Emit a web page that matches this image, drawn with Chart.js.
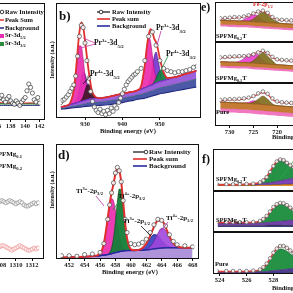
<!DOCTYPE html>
<html>
<head>
<meta charset="utf-8">
<script src="https://cdn.jsdelivr.net/npm/chart.js@4.4.1/dist/chart.umd.min.js"></script>
<style>
  html, body { margin: 0; padding: 0; width: 293px; height: 293px; overflow: hidden; background: #fff; }
  #fig { position: relative; width: 293px; height: 293px; overflow: hidden;
         font-family: "Liberation Serif", "Times New Roman", serif; font-weight: bold; color: #111; }
  #fig canvas { position: absolute; }
  .frame { position: absolute; box-sizing: border-box; border: 1.3px solid #111; pointer-events: none; }
  .t { position: absolute; white-space: nowrap; line-height: 1; }
  .t sub, .t sup { font-size: 65%; line-height: 0; }
  .rot { transform: translate(-50%, -50%) rotate(-90deg); }
  svg { position: absolute; left: 0; top: 0; }
</style>
</head>
<body>
<div id="fig"></div>
<script>
// ---- panel a : Sr 3d (cut at the left edge) ----
const E_a = [136.25, 136.5, 136.75, 137, 137.25, 137.5, 137.75, 138, 138.25, 138.5, 138.75, 139,
             139.25, 139.5, 139.75, 140, 140.25, 140.5, 140.75, 141, 141.25, 141.5, 141.75, 142];
const raw_a = [18, 20, 22, 18, 16, 19, 21, 17, 15, 14, 17, 15, 13, 16, 18, 20, 26, 32, 29, 24, 18, 16, 20, 15];
const sum_a = [15.5, 15.5, 15.4, 15.4, 15.3, 15.3, 15.2, 15.2, 15.1, 15.1, 15, 15, 15, 15, 15, 15.1, 15.2, 15.3, 15.3, 15.2, 15.1, 15, 15, 15];
const sr_a = [14.5, 14.5, 14.5, 14.5, 14.5, 14.5, 14.5, 14.5, 14.5, 14.5, 14.5, 14.5, 14.5, 14.5, 14.5, 14.5, 14.5, 14.5, 14.5, 14.5, 14.5, 14.5, 14.5, 14.5];
const bg_a = [13, 13, 13, 13, 13, 13, 13, 13, 13, 13, 13, 13, 13, 13, 13, 13, 13, 13, 13, 13, 13, 13, 13, 13];
const ticks_a = [132, 134, 136, 138, 140, 142];

// ---- panel b : Pr 3d ----
const E_b = [923.5, 925, 926, 927, 927.5, 928, 928.5, 929, 929.5, 930, 930.5, 931, 932, 934, 936, 938, 940,
             942, 943, 944, 945, 946, 946.5, 947, 947.5, 948, 948.5, 949, 949.5, 950, 950.5, 951, 952, 954, 956, 958, 960];
const bgHigh_b = [10, 11, 12, 13, 13.5, 14, 14.5, 15, 15.5, 16, 16.5, 17, 17.5, 18, 19, 20.5, 22, 23.5, 24, 25,
                  26, 27.5, 28, 29, 29.5, 30, 31, 32, 32.5, 33, 33.5, 34, 35, 37, 39, 41, 43];
const bgMid_b = [9, 9.7, 10.5, 11.2, 11.5, 11.8, 12.1, 12.5, 12.8, 13.2, 13.5, 13.9, 14.2, 14.7, 15.5, 16.7, 18,
                 19.5, 20, 21, 21.7, 22.7, 23.2, 24, 24.5, 25, 25.7, 26.5, 27, 27.5, 27.9, 28.3, 29.1, 30.7, 32.4, 34, 35.6];
const bgLow_b = [8, 8.5, 9, 9.3, 9.5, 9.7, 9.8, 10, 10.2, 10.4, 10.6, 10.8, 11, 11.5, 12, 13, 14, 15.5, 16, 17,
                 17.5, 18, 18.5, 19, 19.5, 20, 20.5, 21, 21.5, 22, 22.3, 22.6, 23.2, 24.5, 25.8, 27, 28.2];
const pink_b = [10, 11.1, 13.4, 25.3, 38.8, 54.7, 65.5, 64.7, 53.3, 38.3, 26.8, 20.7, 17.7, 18, 19, 20.5, 22,
                23.5, 24, 25.1, 28.9, 48.4, 63.2, 72.7, 69.4, 56.7, 44.1, 36.7, 33.7, 33.3, 33.5, 34, 35, 37, 39, 41, 43];
const purple_b = [10, 11, 12, 13.5, 15.2, 19.4, 26.8, 35.8, 41.3, 39.6, 32.3, 24.7, 18.2, 18, 19, 20.5, 22,
                  23.5, 24, 25, 26, 27.5, 28.3, 30.7, 35.6, 44.9, 55.7, 59.8, 53.6, 43.9, 37.3, 34.9, 35, 37, 39, 41, 43];
const dark_b = [10, 11, 12, 13, 13.5, 14, 14.5, 16.1, 19.2, 24.5, 29.5, 30.6, 22, 18, 19, 20.5, 22, 23.5, 24, 25,
                26, 27.5, 28, 29, 29.5, 30, 31, 32, 32.5, 33, 33.5, 34, 35, 37, 39, 41, 43];
const green_b = [10, 11, 12, 13, 13.5, 14, 14.5, 15, 15.5, 16, 16.5, 17, 17.5, 18, 19, 20.5, 22, 23.5, 24, 25,
                 26, 27.5, 28, 29, 29.5, 30.5, 32.7, 36.1, 39.9, 42.8, 43, 40.7, 36.4, 37, 39, 41, 43];
const sum_b = [10, 11.1, 13.4, 25.8, 40.5, 60.1, 77.8, 86.6, 82.8, 70.4, 55.6, 42, 22.9, 18, 19, 20.5, 22, 23.5,
               24, 25.1, 28.9, 48.4, 63.5, 75, 80.5, 78, 72, 68.6, 62.2, 54, 46.8, 41.6, 36.4, 37, 39, 41, 43];
const rawE_b = [923.5, 924, 924.5, 925, 925.5, 926, 926.5, 927, 927.5, 928, 928.5, 929, 929.5, 930, 930.5, 931,
                931.5, 932, 932.5, 933, 933.5, 934, 934.5, 935, 935.5, 936, 936.5, 937, 937.5, 938, 938.5, 939,
                939.5, 940, 940.5, 941, 941.5, 942, 942.5, 943, 943.5, 944, 945, 946, 947, 948, 949, 950, 951,
                952, 953, 954, 955, 956, 957, 958, 959, 960];
const rawY_b = [14, 16, 17, 19, 21, 24, 27, 30, 38, 56, 74, 84, 82, 68, 52, 36, 24, 15, 10, 7,
                5, 8, 4, 6, 3, 7, 4, 9, 6, 11, 9, 14, 18, 22, 26, 30, 33, 35, 37, 39,
                40, 42, 45, 52, 74, 78, 66, 52, 45, 43, 42, 41, 42, 42, 43, 44, 46, 47];
const ticks_b = [930, 940, 950];

// ---- panel c : cut at the left edge ----
const E_c = [1308, 1308.25, 1308.5, 1308.75, 1309, 1309.25, 1309.5, 1309.75, 1310, 1310.25, 1310.5, 1310.75,
             1311, 1311.25, 1311.5, 1311.75, 1312, 1312.25, 1312.5, 1312.75];
const mg01_c = [52, 53, 52, 51, 52, 53, 52, 51, 50, 51, 52, 51, 49, 48, 48, 49, 50, 51, 50, 51];
const mg02_c = [11, 12, 12, 11, 10, 9, 8, 9, 10, 11, 12, 11, 10, 9, 8, 8, 9, 10, 9, 10];
const ticks_c = [1304, 1306, 1308, 1310, 1312];

// ---- panel d : Ti 2p ----
const E_d = [451, 452, 453, 454, 455, 456, 456.5, 457, 457.25, 457.5, 457.75, 458, 458.25, 458.5, 458.75, 459,
             459.25, 459.5, 460, 460.5, 461, 461.5, 462, 462.5, 463, 463.5, 464, 464.5, 465, 465.5, 466, 467, 468];
const bg_d = [1.3, 1.5, 1.8, 2.1, 2.5, 3.0, 3.5, 4.0, 4.4, 4.8, 5.3, 5.8, 6.2, 6.6, 7.0, 7.3, 7.5, 7.6, 7.7, 7.8,
              7.9, 8.0, 8.3, 8.7, 9.2, 9.6, 10.0, 10.2, 10.3, 10.3, 10.3, 10.2, 10.1];
const ti3p32_d = [1.3, 1.5, 1.8, 2.1, 2.6, 4.8, 14.3, 36.9, 48.5, 54.6, 52.6, 43.5, 31.5, 20.9, 13.8, 10.0, 8.4,
                  7.6, 7.7, 7.8, 7.9, 8.0, 8.3, 8.7, 9.2, 9.6, 10.0, 10.2, 10.3, 10.3, 10.3, 10.2, 10.1];
const ti4p32_d = [1.3, 1.5, 1.8, 2.1, 2.5, 3.0, 3.5, 4.0, 5.9, 10, 19, 34, 51.6, 63.4, 62.5, 49.4, 32.4, 19.1,
                  8.9, 7.8, 7.9, 8.0, 8.3, 8.7, 9.2, 9.6, 10.0, 10.2, 10.3, 10.3, 10.3, 10.2, 10.1];
const ti3p12_d = [1.3, 1.5, 1.8, 2.1, 2.5, 3.0, 3.5, 4.0, 4.4, 4.8, 5.3, 5.8, 6.2, 6.6, 7.0, 7.3, 7.5, 7.6, 7.7,
                  7.9, 8.3, 9.8, 13.4, 18.5, 22.1, 21.1, 16.9, 13.0, 11.1, 10.4, 10.3, 10.2, 10.1];
const ti4p12_d = [1.3, 1.5, 1.8, 2.1, 2.5, 3.0, 3.5, 4.0, 4.4, 4.8, 5.3, 5.8, 6.2, 6.6, 7.0, 7.3, 7.5, 7.6, 7.7,
                  7.8, 7.9, 8.1, 8.9, 11.1, 16.2, 23.2, 27.9, 26.1, 19.9, 14.2, 11.4, 10.2, 10.1];
const sum_d = [1.3, 1.5, 1.8, 2.1, 2.6, 4.8, 14.3, 37, 50, 60, 68, 77, 82, 80, 70, 52, 33, 19.1, 8.9, 8.0,
               8.3, 9.9, 14, 20.9, 29.1, 34.7, 34.8, 28.9, 20.7, 14.3, 11.4, 10.2, 10.1];
const raw_d = [3, 3, 2.5, 4, 4.5, 6, 14, 36, 49, 60, 69, 78, 83, 80, 70, 53, 36, 24, 14, 13,
               13.5, 15, 18, 24, 31, 36, 35, 30, 22, 16, 13, 12, 11];
const ticks_d = [452, 454, 456, 458, 460, 462, 464, 466, 468];

// ---- panel e : Fe 2p, three samples ----
const E_e = [732, 731, 730, 729, 728, 727, 726, 725, 724, 723, 722, 721, 720, 719, 718, 717, 716];
const raw1e = [62, 63, 64, 66, 65, 68, 72, 78, 84, 87, 80, 66, 58, 57, 56, 55, 55];
const sum1e = [60, 61, 62, 63, 64, 66, 70, 77, 83, 85, 78, 65, 58, 56, 55, 54, 54];
const top1e = [55, 55, 54, 54, 53, 53, 52, 51, 50, 49, 48, 47, 46, 45, 44, 43, 42];
const low1e = [42, 42, 41, 41, 40, 40, 39, 38, 37, 36, 35, 34, 33, 32, 31, 30, 29];
const base1e = [35, 35, 34, 34, 33, 33, 32, 31, 30, 29, 28, 27, 26, 25, 24, 23, 22];
const mag1e = [55, 55, 54, 54, 53, 58, 66, 74, 70, 55, 48, 47, 46, 45, 44, 43, 42];
const olv1e = [55, 55, 54, 54, 53, 53, 53, 60, 72, 84, 74, 60, 50, 45, 44, 43, 42];
const raw2e = [66, 67, 68, 69, 70, 70, 72, 76, 82, 87, 80, 68, 60, 58, 57, 56, 55];
const sum2e = [64, 65, 66, 67, 68, 69, 71, 77, 83, 85, 78, 66, 59, 57, 56, 55, 54];
const top2e = [52, 52, 51, 51, 50, 50, 49, 48, 47, 46, 45, 44, 43, 42, 41, 40, 39];
const low2e = [40, 40, 39, 39, 38, 38, 37, 36, 35, 34, 33, 32, 31, 30, 29, 28, 27];
const base2e = [33, 33, 32, 32, 31, 31, 30, 29, 28, 27, 26, 25, 24, 23, 22, 21, 20];
const mag2e = [52, 52, 51, 51, 54, 62, 72, 78, 74, 58, 45, 44, 43, 42, 41, 40, 39];
const olv2e = [52, 52, 51, 51, 50, 50, 49, 56, 70, 82, 70, 56, 43, 42, 41, 40, 39];
const raw3e = [68, 69, 70, 70, 71, 72, 74, 78, 85, 90, 84, 72, 64, 62, 61, 60, 59];
const sum3e = [66, 67, 68, 68, 69, 70, 73, 77, 83, 87, 82, 70, 63, 61, 60, 59, 58];
const top3e = [62, 62, 61, 61, 60, 60, 59, 58, 57, 56, 55, 54, 53, 52, 51, 50, 49];
const low3e = [46, 46, 45, 45, 44, 44, 43, 42, 41, 40, 39, 38, 37, 36, 35, 34, 33];
const base3e = [36, 36, 35, 35, 34, 34, 33, 32, 31, 30, 29, 28, 27, 26, 25, 24, 23];
const mag3e = [62, 62, 61, 61, 60, 60, 62, 66, 63, 56, 55, 54, 53, 52, 51, 50, 49];
const olv3e = [62, 62, 61, 61, 60, 60, 59, 62, 70, 78, 70, 58, 53, 52, 51, 50, 49];
const ticks_e = [730, 725, 720, 715];

// ---- panel f : O 1s, three samples ----
const E_f = [523.8, 524.5, 525, 525.5, 526, 526.5, 527, 527.25, 527.5, 527.75, 528, 528.25, 528.5, 528.75,
             529, 529.25, 529.5, 530, 530.5, 531];
const raw1f = [6, 6, 6, 6, 7, 8, 12, 18, 28, 44, 62, 76, 82, 80, 72, 64, 58, 52, 50, 48];
const sum1f = [5, 5, 5, 5, 6, 8, 12, 19, 30, 46, 63, 77, 83, 81, 73, 65, 59, 53, 50, 48];
const top1f = [6, 6, 6, 6, 6, 7, 8, 9, 10, 11, 13, 15, 17, 19, 21, 23, 25, 28, 30, 32];
const low1f = [4, 4, 4, 4, 4, 4, 5, 5, 5, 5, 6, 6, 6, 7, 7, 7, 8, 8, 9, 9];
const grn1f = [6, 6, 6, 6, 6, 7, 11, 18, 28, 44, 60, 74, 80, 78, 70, 62, 55, 45, 38, 34];
const oh1f = [null, null, null, null, null, null, null, null, null, null, null, null, 25, 36, 50, 64, 78, 100, 110, 120];
const raw2f = [16, 16, 16, 16, 16, 17, 20, 26, 36, 50, 64, 73, 77, 76, 70, 62, 55, 48, 44, 42];
const sum2f = [15, 15, 15, 15, 15, 16, 19, 25, 35, 49, 63, 72, 76, 75, 69, 61, 54, 47, 43, 41];
const top2f = [12, 12, 12, 12, 12, 13, 13, 14, 15, 16, 17, 18, 19, 20, 21, 22, 23, 25, 27, 29];
const low2f = [6, 6, 6, 6, 6, 6, 6, 6, 7, 7, 7, 7, 7, 8, 8, 8, 8, 9, 9, 9];
const grn2f = [12, 12, 12, 12, 12, 14, 18, 24, 33, 47, 60, 70, 74, 73, 67, 59, 51, 42, 35, 31];
const raw3f = [8, 8, 8, 8, 8, 9, 12, 18, 28, 42, 57, 68, 75, 75, 70, 63, 56, 50, 46, 44];
const sum3f = [7, 7, 7, 7, 7, 8, 11, 17, 27, 41, 56, 68, 75, 75, 70, 63, 56, 49, 45, 43];
const top3f = [5, 5, 5, 5, 5, 5, 6, 6, 7, 8, 9, 10, 11, 12, 13, 14, 15, 17, 19, 21];
const low3f = [2, 2, 2, 2, 2, 2, 2, 2, 3, 3, 3, 3, 3, 3, 4, 4, 4, 4, 5, 5];
const grn3f = [5, 5, 5, 5, 5, 7, 10, 16, 25, 38, 52, 62, 67, 66, 61, 54, 47, 38, 31, 27];
const ticks_f = [524, 526, 528, 530];

const SERIF = '"Liberation Serif", "Times New Roman", serif';
const fig = document.getElementById('fig');

function pts(xs, ys) {
  return xs.map((x, i) => ({ x: x, y: ys[i] }));
}

function circles(xs, ys, color, r) {
  return { data: pts(xs, ys), showLine: false, pointRadius: r, pointBorderWidth: 0.7,
           pointBorderColor: color, pointBackgroundColor: 'rgba(255,255,255,0.85)', borderColor: color };
}

function curve(xs, ys, color, width, fill, fillColor) {
  return { data: pts(xs, ys), borderColor: color, borderWidth: width, pointRadius: 0,
           cubicInterpolationMode: 'monotone', fill: fill === undefined ? false : fill,
           backgroundColor: fillColor || 'rgba(0,0,0,0)' };
}

// One plot box: canvas + frame. The x axis (with ticks) hangs below the box when ticks are given.
function panel(box, xmin, xmax, ticks, datasets, reverse) {
  const axisH = ticks ? 12 : 0;
  const cv = document.createElement('canvas');
  cv.width = box.w;
  cv.height = box.h + axisH;
  cv.style.left = box.x + 'px';
  cv.style.top = box.y + 'px';
  fig.appendChild(cv);

  const fr = document.createElement('div');
  fr.className = 'frame';
  fr.style.left = box.x + 'px';
  fr.style.top = box.y + 'px';
  fr.style.width = box.w + 'px';
  fr.style.height = box.h + 'px';
  fig.appendChild(fr);

  return new Chart(cv.getContext('2d'), {
    type: 'line',
    data: { datasets: datasets },
    options: {
      responsive: false,
      animation: false,
      devicePixelRatio: 1,
      events: [],
      layout: { padding: 0 },
      plugins: { legend: { display: false }, tooltip: { enabled: false } },
      scales: {
        x: {
          type: 'linear', min: xmin, max: xmax, reverse: !!reverse, display: !!ticks,
          afterBuildTicks: (s) => { if (ticks) s.ticks = ticks.map(v => ({ value: v })); },
          afterFit: (s) => { s.height = axisH; s.paddingLeft = 0; s.paddingRight = 0; },
          grid: { drawOnChartArea: false, drawTicks: true, tickLength: 2, color: '#111', lineWidth: 1 },
          border: { display: false },
          ticks: { font: { family: SERIF, size: 6.5, weight: 'bold' }, color: '#222', padding: 0,
                   maxRotation: 0, autoSkip: false, callback: v => String(v) }
        },
        y: { display: false, min: 0, max: 100 }
      }
    }
  });
}

// a
panel({ x: -50, y: 3, w: 95, h: 117 }, 130.225, 142.1, ticks_a, [
  circles(E_a, raw_a, '#333', 2.1),
  curve(E_a, sum_a, '#e0302e', 1),
  curve(E_a, sr_a, '#2c8a3c', 1.6),
  curve(E_a, bg_a, '#23237a', 1)
]);

// b
panel({ x: 56, y: 3, w: 145, h: 115 }, 923.5, 959.75, ticks_b, [
  circles(rawE_b, rawY_b, '#444', 2.1),
  curve(E_b, sum_b, '#e0302e', 1.8),
  curve(E_b, bgHigh_b, '#7d35c8', 1.2, 3, 'rgba(140,70,210,0.85)'),
  curve(E_b, bgMid_b, '#2c7a4e', 0.8, 4, 'rgba(45,60,150,0.85)'),
  curve(E_b, bgLow_b, '#1c1c70', 1.2),
  curve(E_b, green_b, '#0b4d1f', 0.7, 2, 'rgba(25,130,70,0.95)'),
  curve(E_b, dark_b, '#2a0f1e', 0.7, 2, 'rgba(70,25,45,0.95)'),
  curve(E_b, pink_b, '#b3127f', 0.7, 2, 'rgba(235,45,175,0.92)'),
  curve(E_b, purple_b, '#4a1f9a', 0.7, 2, 'rgba(120,60,210,0.95)')
]);

// c
const c01 = circles(E_c, mg01_c, '#888', 2);
c01.showLine = true; c01.borderWidth = 0.8;
const c02 = circles(E_c, mg02_c, '#ef8a8a', 2);
c02.showLine = true; c02.borderWidth = 0.8;
panel({ x: -50, y: 144, w: 94, h: 115 }, 1302.44, 1312.89, ticks_c, [c01, c02]);

// d
panel({ x: 56, y: 144, w: 143, h: 115 }, 450.9, 468.23, ticks_d, [
  circles(E_d, raw_d, '#444', 2.1),
  curve(E_d, sum_d, '#e0302e', 2),
  curve(E_d, bg_d, '#2a2aa0', 1.5, 'start', 'rgba(110,60,190,0.55)'),
  curve(E_d, ti4p12_d, '#6a1f9a', 0.7, 2, 'rgba(160,70,220,0.9)'),
  curve(E_d, ti3p12_d, '#1c2a8a', 0.9, 2, 'rgba(50,60,190,0.9)'),
  curve(E_d, ti4p32_d, '#0b4d1f', 0.7, 2, 'rgba(20,125,55,0.95)'),
  curve(E_d, ti3p32_d, '#b3127f', 0.7, 2, 'rgba(235,45,175,0.92)')
]);

// e
function feSets(raw, sum, top, low, base, olv, mag) {
  return [
    circles(E_e, raw, '#555', 1.8),
    curve(E_e, sum, '#e23b3b', 1.2),
    curve(E_e, top, '#8a5a14', 0.8, 3, 'rgba(190,110,30,0.9)'),
    curve(E_e, low, '#e0559f', 0.6, 4, 'rgba(240,105,185,0.9)'),
    curve(E_e, base, 'rgba(0,0,0,0)', 0),
    curve(E_e, olv, '#5b4a10', 0.6, 2, 'rgba(130,110,30,0.92)'),
    curve(E_e, mag, '#c02aa8', 0.6, 2, 'rgba(235,60,205,0.9)')
  ];
}
panel({ x: 215, y: 2, w: 105, h: 40 }, 711.93, 732.12, null, feSets(raw1e, sum1e, top1e, low1e, base1e, olv1e, mag1e), true);
panel({ x: 215, y: 42, w: 105, h: 41 }, 711.93, 732.12, null, feSets(raw2e, sum2e, top2e, low2e, base2e, olv2e, mag2e), true);
panel({ x: 215, y: 83, w: 105, h: 43 }, 711.93, 732.12, ticks_e, feSets(raw3e, sum3e, top3e, low3e, base3e, olv3e, mag3e), true);

// f
function oSets(raw, sum, oh, top, low, grn, topCol, lowCol) {
  return [
    circles(E_f, raw, '#555', 1.8),
    curve(E_f, sum, '#e23b3b', 1.5),
    oh ? curve(E_f, oh, '#2fa84a', 0.9) : { data: [] },
    curve(E_f, top, '#4a2080', 0.6, 4, topCol),
    curve(E_f, low, '#222', 0.6, 'start', lowCol),
    curve(E_f, grn, '#0f5e25', 0.6, 3, 'rgba(25,140,60,0.95)')
  ];
}
panel({ x: 213, y: 149, w: 107, h: 42 }, 523.86, 531.11, null,
  oSets(raw1f, sum1f, oh1f, top1f, low1f, grn1f, 'rgba(110,50,170,0.9)', 'rgba(225,135,30,0.95)'));
panel({ x: 213, y: 191, w: 107, h: 41 }, 523.86, 531.11, null,
  oSets(raw2f, sum2f, null, top2f, low2f, grn2f, 'rgba(100,45,160,0.9)', 'rgba(40,40,110,0.9)'));
panel({ x: 213, y: 232, w: 107, h: 42 }, 523.86, 531.11, ticks_f,
  oSets(raw3f, sum3f, null, top3f, low3f, grn3f, 'rgba(60,40,130,0.9)', 'rgba(25,25,80,0.9)'));

// ---- texts ----
function txt(html, x, y, size, color, cls) {
  const s = document.createElement('span');
  s.className = 't' + (cls ? ' ' + cls : '');
  s.innerHTML = html;
  s.style.left = x + 'px';
  s.style.top = y + 'px';
  s.style.fontSize = size + 'px';
  if (color) s.style.color = color;
  fig.appendChild(s);
  return s;
}

txt('b)', 59, 9, 13);
txt('d)', 58, 148, 13);
txt('e)', 201, 1, 12);
txt('f)', 202, 153, 12);

// legends
txt('Raw Intensity', 5, 9, 6.5);
txt('Peak Sum', 5, 17, 6.5);
txt('Background', 5, 25, 6.5);
txt('Sr-3d<sub>5/2</sub>', 5, 32, 6.5);
txt('Sr-3d<sub>3/2</sub>', 5, 40, 6.5);
txt('Raw Intensity', 112, 9, 6.5);
txt('Peak sum', 112, 16, 6.5);
txt('Background', 112, 23, 6.5);
txt('Raw Intensity', 149, 149, 7);
txt('Peak sum', 149, 156, 7);
txt('Background', 149, 163, 7);
const l1 = txt('SPFMg<sub>0.1</sub>', 0, 151, 7);
l1.style.left = 'auto'; l1.style.right = '271px';
const l2 = txt('SPFMg<sub>0.2</sub>', 0, 163, 7);
l2.style.left = 'auto'; l2.style.right = '271px';

// peak labels
txt('Pr<sup>3+</sup>-3d<sub>5/2</sub>', 94, 39, 7.5);
txt('Pr<sup>4+</sup>-3d<sub>5/2</sub>', 90, 70, 7.5);
txt('Pr<sup>3+</sup>-3d<sub>3/2</sub>', 156, 24, 7.5);
txt('Pr<sup>4+</sup>-3d<sub>3/2</sub>', 166, 50, 7.5);
txt('Ti<sup>3+</sup>-2p<sub>3/2</sub>', 76, 188, 7);
txt('Ti<sup>4+</sup>-2p<sub>3/2</sub>', 118, 193, 7);
txt('Ti<sup>3+</sup>-2p<sub>1/2</sub>', 123, 218, 7);
txt('Ti<sup>4+</sup>-2p<sub>1/2</sub>', 166, 215, 7);
txt('Fe-2p<sub>1/2</sub>', 253, 1, 6, '#d42a2a');

txt('SPFMg<sub>0.2</sub>T', 216, 33, 6.5);
txt('SPFMg<sub>0.1</sub>T', 216, 75, 6.5);
txt('Pure', 216, 109, 6.5);
txt('SPFMg<sub>0.2</sub>T', 216, 176, 6.5);
txt('SPFMg<sub>0.1</sub>T', 216, 217, 6.5);
txt('Pure', 215, 261, 6.5);

// axis titles
txt('Intensity (a.u.)', 52, 60, 6, null, 'rot');
txt('Intensity (a.u.)', 52, 190, 6, null, 'rot');
txt('Binding energy (eV)', 100, 128, 6.5);
txt('Binding energy (eV)', 102, 269, 6.5);
txt('Binding energy (eV)', 272, 134, 6.5);
txt('Binding energy (eV)', 272, 285, 6.5);

// legend keys and label pointers
const NS = 'http://www.w3.org/2000/svg';
const svg = document.createElementNS(NS, 'svg');
svg.setAttribute('width', 293);
svg.setAttribute('height', 293);
fig.appendChild(svg);
function seg(x1, y1, x2, y2, col, w) {
  const l = document.createElementNS(NS, 'line');
  l.setAttribute('x1', x1); l.setAttribute('y1', y1);
  l.setAttribute('x2', x2); l.setAttribute('y2', y2);
  l.setAttribute('stroke', col); l.setAttribute('stroke-width', w || 1);
  svg.appendChild(l);
}
function dot(cx, cy) {
  const c = document.createElementNS(NS, 'circle');
  c.setAttribute('cx', cx); c.setAttribute('cy', cy); c.setAttribute('r', 1.8);
  c.setAttribute('fill', '#fff'); c.setAttribute('stroke', '#111'); c.setAttribute('stroke-width', 0.8);
  svg.appendChild(c);
}
function box(x, y, col) {
  const r = document.createElementNS(NS, 'rect');
  r.setAttribute('x', x); r.setAttribute('y', y); r.setAttribute('width', 4); r.setAttribute('height', 4);
  r.setAttribute('fill', col);
  svg.appendChild(r);
}
// a
seg(-2, 12, 4, 12, '#111', 1.2); dot(2, 12);
seg(-2, 20, 4, 20, '#e0302e', 1.5);
seg(-2, 28, 4, 28, '#23237a', 1.5);
box(0, 34, '#e62db4');
box(0, 42, '#2c8a3c');
// b
seg(97, 12, 110, 12, '#111', 1.2); dot(101, 12);
seg(97, 19, 110, 19, '#e0302e', 1.6);
seg(97, 26, 110, 26, '#2b2ba0', 1.6);
// d
seg(133, 152, 147, 152, '#111', 1.2); dot(146, 152);
seg(133, 159, 147, 159, '#e0302e', 1.6);
seg(133, 166, 147, 166, '#2b2ba0', 1.6);
// pointers
seg(95, 43, 83, 38, '#d03aa8', 0.8);
seg(95, 44, 81, 48, '#d03aa8', 0.8);
seg(91, 75, 83, 84, '#111', 0.8);
seg(161, 31, 157, 45, '#c02aa8', 0.8);
seg(168, 56, 161, 70, '#1f8a3a', 0.8);
seg(96, 196, 104, 206, '#c02aa8', 0.8);
seg(120, 200, 113, 210, '#1f8a3a', 0.8);
seg(141, 226, 151, 236, '#111', 0.8);
seg(168, 222, 161, 231, '#c02aa8', 0.8);
</script>
</body>
</html>
